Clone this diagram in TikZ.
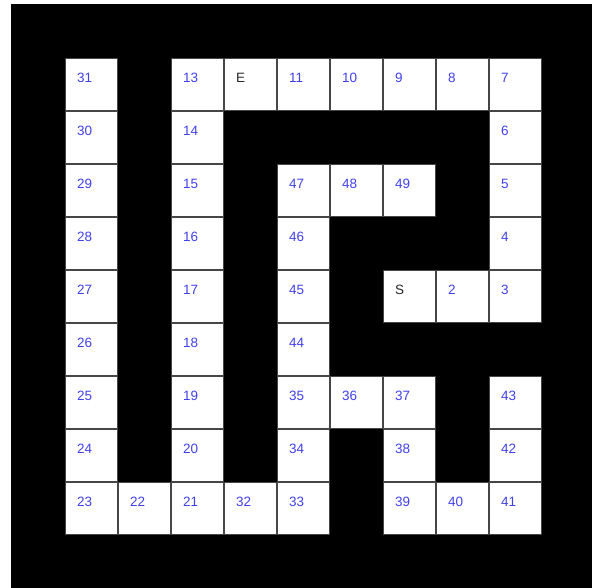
\documentclass[tikz,border=0pt]{standalone}
\usepackage{fontspec}
\setmainfont{Liberation Sans}
\definecolor{numblue}{RGB}{64,64,240}
\definecolor{lettergray}{RGB}{40,40,40}
\definecolor{cellline}{RGB}{70,70,70}
\begin{document}
\begin{tikzpicture}[x=1pt,y=-1pt,
  cellbox/.style={fill=white,draw=cellline,line width=0.8pt},
  numlabel/.style={anchor=west,inner sep=0pt,text=numblue,font=\fontsize{13.5}{15}\selectfont},
  letlabel/.style={anchor=west,inner sep=0pt,text=lettergray,font=\fontsize{13.5}{15}\selectfont}]
\useasboundingbox (0,0) rectangle (592,588);
\fill[white] (0,0) rectangle (592,588);
\fill[black] (11,4) rectangle (592,588);
\foreach \c/\r/\t/\s in {
  0/0/31/numlabel, 2/0/13/numlabel, 3/0/E/letlabel, 4/0/11/numlabel, 5/0/10/numlabel, 6/0/9/numlabel, 7/0/8/numlabel, 8/0/7/numlabel,
  0/1/30/numlabel, 2/1/14/numlabel, 8/1/6/numlabel,
  0/2/29/numlabel, 2/2/15/numlabel, 4/2/47/numlabel, 5/2/48/numlabel, 6/2/49/numlabel, 8/2/5/numlabel,
  0/3/28/numlabel, 2/3/16/numlabel, 4/3/46/numlabel, 8/3/4/numlabel,
  0/4/27/numlabel, 2/4/17/numlabel, 4/4/45/numlabel, 6/4/S/letlabel, 7/4/2/numlabel, 8/4/3/numlabel,
  0/5/26/numlabel, 2/5/18/numlabel, 4/5/44/numlabel,
  0/6/25/numlabel, 2/6/19/numlabel, 4/6/35/numlabel, 5/6/36/numlabel, 6/6/37/numlabel, 8/6/43/numlabel,
  0/7/24/numlabel, 2/7/20/numlabel, 4/7/34/numlabel, 6/7/38/numlabel, 8/7/42/numlabel,
  0/8/23/numlabel, 1/8/22/numlabel, 2/8/21/numlabel, 3/8/32/numlabel, 4/8/33/numlabel, 6/8/39/numlabel, 7/8/40/numlabel, 8/8/41/numlabel} {
  \node[cellbox,minimum size=52pt,inner sep=0pt,anchor=north west] (cell-\c-\r) at ({65+53*\c},{58+53*\r}) {};
  \node[\s] (lab-\c-\r) at ([xshift=12pt,yshift=-20pt]cell-\c-\r.north west) {\t};
}
\end{tikzpicture}
\end{document}
